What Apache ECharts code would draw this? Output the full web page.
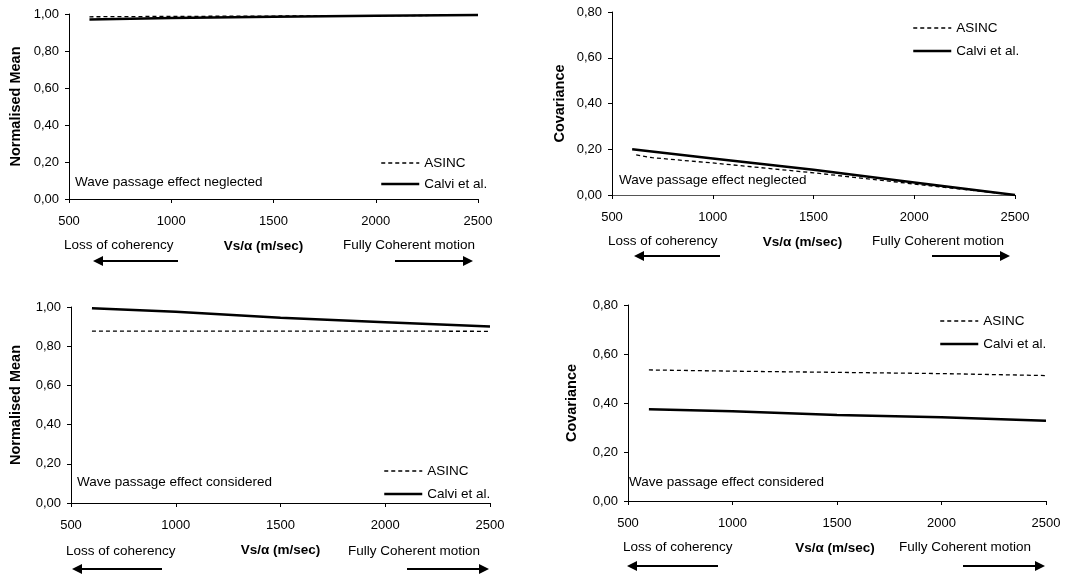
<!DOCTYPE html>
<html>
<head>
<meta charset="utf-8">
<script src="https://cdn.jsdelivr.net/npm/echarts@6/dist/echarts.min.js"></script>
<style>
  html, body { margin: 0; padding: 0; background: #fff; }
  #chart { width: 1081px; height: 577px; }
</style>
</head>
<body>
<div id="chart"></div>
<script>
// values
var xTicks = [500, 2500];
var seriesNames = ["ASINC", "Calvi et al."];

// panel 1: normalised mean, wave passage neglected
var p1X = [600, 1000, 1500, 2000, 2500];
var p1Asinc = [0.985, 0.987, 0.989, 0.991, 0.993];
var p1Calvi = [0.970, 0.978, 0.985, 0.990, 0.995];

// panel 2: covariance, wave passage neglected
var p2AsincX = [620, 700, 1000, 1500, 2000, 2500];
var p2Asinc = [0.175, 0.163, 0.140, 0.097, 0.048, 0.0];
var p2CalviX = [600, 1000, 1500, 2000, 2500];
var p2Calvi = [0.200, 0.160, 0.110, 0.055, 0.0];

// panel 3: normalised mean, wave passage considered
var p3X = [600, 1000, 1500, 2000, 2500];
var p3Asinc = [0.877, 0.877, 0.877, 0.877, 0.876];
var p3Calvi = [0.993, 0.976, 0.945, 0.922, 0.900];

// panel 4: covariance, wave passage considered
var p4X = [600, 1000, 1500, 2000, 2500];
var p4Asinc = [0.535, 0.530, 0.525, 0.520, 0.512];
var p4Calvi = [0.374, 0.366, 0.351, 0.342, 0.328];

var FONT = "Liberation Sans, Arial, sans-serif";
var FS = 13.5;

function pairs(xs, ys) {
  var out = [];
  for (var i = 0; i < xs.length; i++) out.push([xs[i], ys[i]]);
  return out;
}

var grids = [
  { left: 69, top: 14, width: 409, height: 185 },
  { left: 612, top: 12, width: 403, height: 183 },
  { left: 71, top: 307, width: 419, height: 196 },
  { left: 628, top: 305, width: 418, height: 196 }
];
var yMax = [1.0, 0.8, 1.0, 0.8];
var yNames = ["Normalised Mean", "Covariance", "Normalised Mean", "Covariance"];
var yNameGap = [46, 45, 48, 49];
var xNamePad = [[0, 20, 0, 0], [0, 22, 0, 0], [0, 0, 0, 0], [0, 4, 0, 0]];

var xAxes = [], yAxes = [];
for (var i = 0; i < 4; i++) {
  xAxes.push({
    gridIndex: i,
    type: "value",
    min: xTicks[0],
    max: xTicks[1],
    interval: 500,
    name: "Vs/α (m/sec)",
    nameLocation: "middle",
    nameGap: 40,
    nameTextStyle: { fontFamily: FONT, fontSize: FS, fontWeight: "bold", color: "#000", padding: xNamePad[i] },
    splitLine: { show: false },
    axisLine: { show: true, lineStyle: { color: i === 1 ? "#555" : "#000", width: 1 } },
    axisTick: { show: true, length: 4, lineStyle: { color: "#000" } },
    axisLabel: {
      color: "#000", fontFamily: FONT, fontSize: 13, margin: 16,
      formatter: function (v) { return String(v); }
    }
  });
  yAxes.push({
    gridIndex: i,
    type: "value",
    min: 0,
    max: yMax[i],
    interval: 0.2,
    name: yNames[i],
    nameLocation: "middle",
    nameGap: yNameGap[i],
    nameTextStyle: { fontFamily: FONT, fontSize: 14.5, fontWeight: "bold", color: "#000" },
    splitLine: { show: false },
    axisLine: { show: true, lineStyle: { color: "#000", width: 1 } },
    axisTick: { show: true, length: 4, lineStyle: { color: "#000" } },
    axisLabel: {
      color: "#000", fontFamily: FONT, fontSize: 13, margin: 10,
      formatter: function (v) { return v.toFixed(2).replace(".", ","); }
    }
  });
}

var asincLine = { color: "#000", width: 1.3, type: [4, 3] };
var calviLine = { color: "#000", width: 2.5, type: "solid" };

function asinc(idx, data) {
  return {
    name: seriesNames[0], type: "line", xAxisIndex: idx, yAxisIndex: idx,
    data: data, symbol: "none", showSymbol: false, animation: false, silent: true,
    color: "#000", itemStyle: { color: "#000" },
    lineStyle: asincLine
  };
}
function calvi(idx, data) {
  return {
    name: seriesNames[1], type: "line", xAxisIndex: idx, yAxisIndex: idx,
    data: data, symbol: "none", showSymbol: false, animation: false, silent: true,
    color: "#000", itemStyle: { color: "#000" },
    lineStyle: calviLine
  };
}

var series = [
  asinc(0, pairs(p1X, p1Asinc)), calvi(0, pairs(p1X, p1Calvi)),
  asinc(1, pairs(p2AsincX, p2Asinc)), calvi(1, pairs(p2CalviX, p2Calvi)),
  asinc(2, pairs(p3X, p3Asinc)), calvi(2, pairs(p3X, p3Calvi)),
  asinc(3, pairs(p4X, p4Asinc)), calvi(3, pairs(p4X, p4Calvi))
];

var legendPos = [
  { left: 380, top: 156, itemGap: 7 },
  { left: 912, top: 21, itemGap: 9 },
  { left: 383, top: 464, itemGap: 9 },
  { left: 939, top: 314, itemGap: 9 }
];
var legends = legendPos.map(function (p) {
  return {
    left: p.left, top: p.top, orient: "vertical", padding: 0,
    itemGap: p.itemGap, itemWidth: 38, itemHeight: 12,
    selectedMode: false,
    data: [
      { name: seriesNames[0], lineStyle: asincLine },
      { name: seriesNames[1], lineStyle: calviLine }
    ],
    itemStyle: { opacity: 0 },
    textStyle: { fontFamily: FONT, fontSize: FS, color: "#000" }
  };
});

// annotation texts and arrows
var notes = [
  { x: 75, y: 183, t: "Wave passage effect neglected" },
  { x: 619, y: 181, t: "Wave passage effect neglected" },
  { x: 77, y: 483, t: "Wave passage effect considered" },
  { x: 629, y: 483, t: "Wave passage effect considered" }
];
var bottomRows = [
  { y: 246, loss: 64, full: 343, ay: 261, l: [178, 93], r: [395, 473] },
  { y: 242, loss: 608, full: 872, ay: 256, l: [720, 634], r: [932, 1010] },
  { y: 552, loss: 66, full: 348, ay: 569, l: [162, 72], r: [407, 489] },
  { y: 548, loss: 623, full: 899, ay: 566, l: [718, 627], r: [963, 1045] }
];

var graphic = [];
notes.forEach(function (n) {
  graphic.push({ type: "text", left: n.x, top: n.y - 8, silent: true,
    style: { text: n.t, font: FS + "px " + FONT, fill: "#000" } });
});
function arrow(x0, x1, y) {
  var dir = x1 > x0 ? 1 : -1;
  var tip = x1, base = x1 - dir * 10;
  graphic.push({ type: "line", silent: true,
    shape: { x1: x0, y1: y, x2: base, y2: y },
    style: { stroke: "#000", lineWidth: 2 } });
  graphic.push({ type: "polygon", silent: true,
    shape: { points: [[tip, y], [base, y - 5], [base, y + 5]] },
    style: { fill: "#000" } });
}
bottomRows.forEach(function (b) {
  graphic.push({ type: "text", left: b.loss, top: b.y - 8, silent: true,
    style: { text: "Loss of coherency", font: FS + "px " + FONT, fill: "#000" } });
  graphic.push({ type: "text", left: b.full, top: b.y - 8, silent: true,
    style: { text: "Fully Coherent motion", font: FS + "px " + FONT, fill: "#000" } });
  arrow(b.l[0], b.l[1], b.ay);
  arrow(b.r[0], b.r[1], b.ay);
});

var myChart = echarts.init(document.getElementById("chart"));
myChart.setOption({
  backgroundColor: "#fff",
  animation: false,
  grid: grids,
  xAxis: xAxes,
  yAxis: yAxes,
  legend: legends,
  series: series,
  graphic: graphic
});
</script>
</body>
</html>
